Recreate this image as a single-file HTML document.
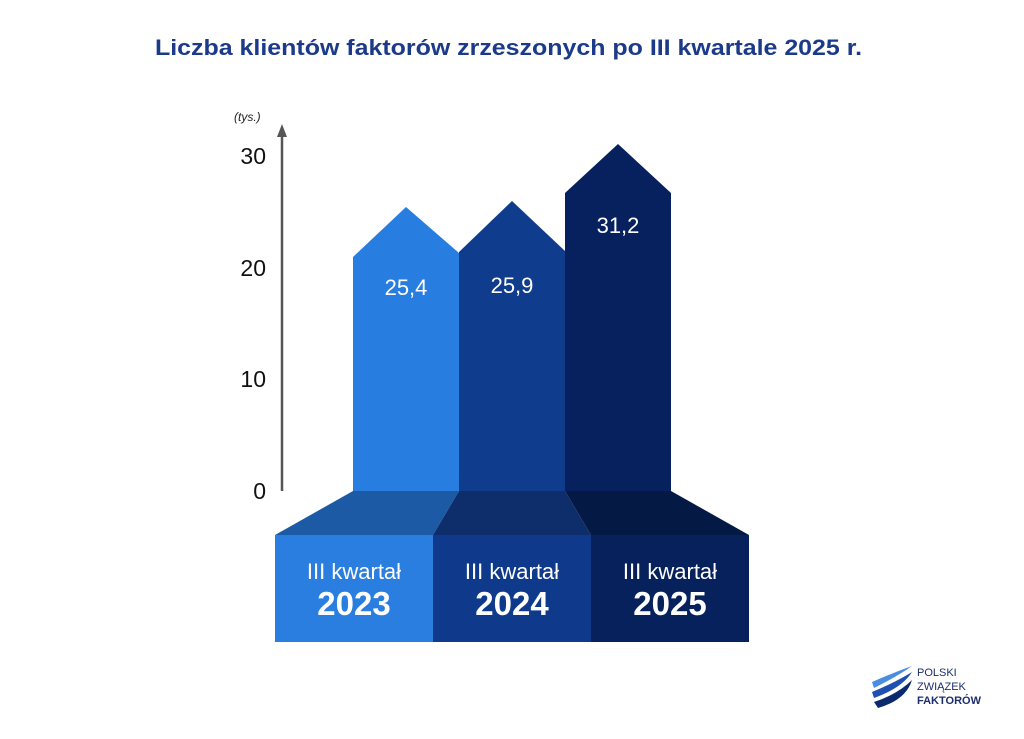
<!DOCTYPE html>
<html><head><meta charset="utf-8"><style>
html,body{margin:0;padding:0;background:#fff;}
svg{display:block;}
text{font-family:"Liberation Sans",sans-serif;}
</style></head><body>
<svg width="1024" height="739" viewBox="0 0 1024 739" xmlns="http://www.w3.org/2000/svg">
<text x="155" y="55" font-size="22" font-weight="bold" fill="#1b3a8a" textLength="707" lengthAdjust="spacingAndGlyphs">Liczba klientów faktorów zrzeszonych po III kwartale 2025 r.</text>
<text x="234" y="121" font-size="12" font-style="italic" fill="#222">(tys.)</text>
<line x1="282" y1="135" x2="282" y2="491" stroke="#555" stroke-width="2.5"/>
<polygon points="277,137 282,124 287,137" fill="#555"/>
<g font-size="23" fill="#111" text-anchor="end">
<text x="266" y="164">30</text>
<text x="266" y="276">20</text>
<text x="266" y="387">10</text>
<text x="266" y="499">0</text>
</g>
<polygon points="353,491 353,257 406,207 459,253 459,491" fill="#277ee0"/>
<polygon points="459,491 459,252 512,201 565,251 565,491" fill="#103c8e"/>
<polygon points="565,491 565,193 618,144 671,193 671,491" fill="#06215d"/>
<polygon points="353,491 459,491 433,535 275,535" fill="#1d5aa5"/>
<polygon points="459,491 565,491 591,535 433,535" fill="#0d2d6b"/>
<polygon points="565,491 671,491 749,535 591,535" fill="#041a45"/>
<rect x="275" y="535" width="158" height="107" fill="#2a7ee0"/>
<rect x="433" y="535" width="158" height="107" fill="#0f3a8c"/>
<rect x="591" y="535" width="158" height="107" fill="#06215c"/>
<g font-size="22" fill="#fff" text-anchor="middle">
<text x="406" y="295">25,4</text>
<text x="512" y="293">25,9</text>
<text x="618" y="233">31,2</text>
<text x="354" y="579">III kwartał</text>
<text x="512" y="579">III kwartał</text>
<text x="670" y="579">III kwartał</text>
</g>
<g font-size="33" font-weight="bold" fill="#fff" text-anchor="middle">
<text x="354" y="615">2023</text>
<text x="512" y="615">2024</text>
<text x="670" y="615">2025</text>
</g>
<g fill="#1d3d8f">
<path d="M872,682 Q895,672 912,666 Q898,676 874,688 Z" fill="#4a8ee0"/>
<path d="M872,692 Q896,682 912,672 Q902,688 874,698 Z" fill="#1f4fb0"/>
<path d="M874,702 Q898,694 912,680 Q906,700 878,708 Z" fill="#0b2a6e"/>
</g>
<g font-size="11" fill="#1d2f6e">
<text x="917" y="676">POLSKI</text>
<text x="917" y="690">ZWIĄZEK</text>
<text x="917" y="704" font-weight="bold">FAKTORÓW</text>
</g>
</svg>
</body></html>
